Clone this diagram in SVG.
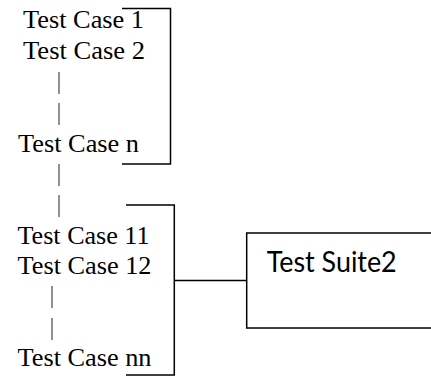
<svg xmlns="http://www.w3.org/2000/svg" width="431" height="376" viewBox="0 0 431 376">
<style>
.tc{font-family:"Liberation Serif","Times New Roman",serif;font-size:24.5px;fill:#000}
.ts{font-family:Lato,"Open Sans",sans-serif;font-size:28px;fill:#000}
.br{fill:none;stroke:#000;stroke-width:1.5}
.dash{stroke:#555;stroke-width:1.3}
</style>
<rect width="431" height="376" fill="#fff"/>
<g id="group1">
<text class="tc" x="23" y="28" textLength="121" lengthAdjust="spacingAndGlyphs">Test Case 1</text>
<text class="tc" x="23" y="59" textLength="122" lengthAdjust="spacingAndGlyphs">Test Case 2</text>
<text class="tc" x="18" y="152" textLength="121" lengthAdjust="spacingAndGlyphs">Test Case n</text>
<path class="br" d="M122,8.5 H170.5 V164 H122"/>
<line class="dash" x1="59" y1="72" x2="59" y2="94"/>
<line class="dash" x1="59" y1="103" x2="59" y2="125"/>
<line class="dash" x1="59" y1="164" x2="59" y2="186"/>
<line class="dash" x1="59" y1="195" x2="59" y2="217"/>
</g>
<g id="group2">
<text class="tc" x="17.5" y="244" textLength="132" lengthAdjust="spacingAndGlyphs">Test Case 11</text>
<text class="tc" x="17.5" y="274" textLength="134" lengthAdjust="spacingAndGlyphs">Test Case 12</text>
<text class="tc" x="17.5" y="366" textLength="134" lengthAdjust="spacingAndGlyphs">Test Case nn</text>
<path class="br" d="M126,205 H174.3 V375 H126"/>
<line class="dash" x1="52" y1="286" x2="52" y2="308"/>
<line class="dash" x1="52" y1="318" x2="52" y2="340"/>
</g>
<g id="suite2">
<rect class="br" x="246.7" y="233" width="200" height="95"/>
<text class="ts" x="266.7" y="272" textLength="130" lengthAdjust="spacingAndGlyphs">Test Suite2</text>
</g>
<g id="connectors">
<line class="br" x1="174.3" y1="280.5" x2="246.7" y2="280.5"/>
</g>
</svg>
